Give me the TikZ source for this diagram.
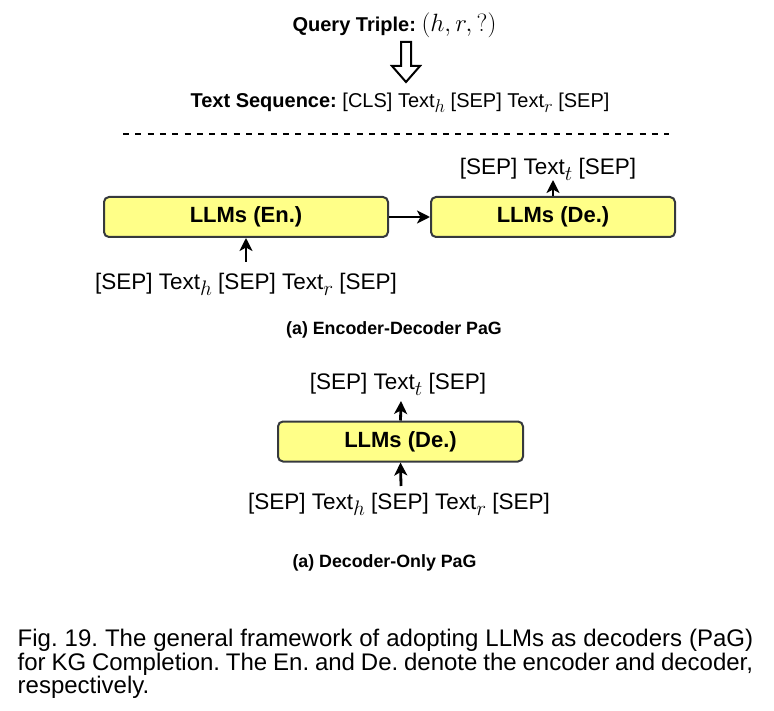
\RequirePackage{fix-cm}
\documentclass[tikz,border=0pt]{standalone}
\usepackage[no-math]{fontspec}
\setmainfont{Liberation Sans}
\usetikzlibrary{arrows.meta}
\definecolor{boxfill}{HTML}{FFFF88}
\definecolor{boxline}{HTML}{36393D}
\newcommand{\sbs}[1]{\raisebox{-6pt}{\fontsize{21}{21}\selectfont$#1$}}
\newcommand{\sbsm}[1]{\raisebox{-5pt}{\fontsize{18.5}{18.5}\selectfont$#1$}}
\begin{document}
\frenchspacing
\begin{tikzpicture}[x=1pt,y=-1pt,
  llm/.style={draw=boxline, fill=boxfill, line width=2pt, rounded corners=5pt,
    font=\fontsize{22}{26}\selectfont\bfseries, inner sep=0pt, minimum height=40pt},
  txt/.style={anchor=base, inner sep=0pt, font=\fontsize{22.5}{27}\selectfont},
  toptxt/.style={anchor=base, inner sep=0pt, font=\fontsize{20}{23}\selectfont},
  subcap/.style={anchor=base, inner sep=0pt, font=\fontsize{17.8}{20}\selectfont\bfseries},
  captxt/.style={anchor=base west, inner sep=0pt, font=\fontsize{24}{24}\selectfont},
  arr/.style={line width=2.8pt, -{Stealth[length=13pt,width=13pt,inset=3.5pt]}},
]
\useasboundingbox (0,0) rectangle (774,711);

% top part
\node[toptxt] (query) at (394.5,32) {\textbf{Query Triple:} {\fontsize{25}{25}\selectfont$(h, r, ?)$}};
\draw[line width=2pt, fill=white] (401,42) -- (411,42) -- (411,66) -- (420,66)
  -- (406,82) -- (392,66) -- (401,66) -- cycle;
\node[toptxt] (seq) at (400,108) {\textbf{Text Sequence:} [CLS] Text\sbsm{h} [SEP] Text\sbsm{r} [SEP]};
\draw[line width=2.5pt, dash pattern=on 6pt off 6.3pt] (123,134) -- (669,134);

% encoder-decoder
\node[llm, minimum width=284pt] (en) at (246,217) {LLMs (En.)};
\node[llm, minimum width=244pt] (de) at (553,217) {LLMs (De.)};
\draw[arr] (en.east) -- (de.west);
\node[txt] (outA) at (548,175) {[SEP] Text\sbs{t} [SEP]};
\coordinate (outAtip) at (553,180);
\draw[arr] (de.north) -- (outAtip);
\node[txt] (inA) at (246,290) {[SEP] Text\sbs{h} [SEP] Text\sbs{r} [SEP]};
\coordinate (inAbase) at (246,262);
\draw[arr] (inAbase) -- (en.south);
\node[subcap] (capA) at (394,335) {(a) Encoder-Decoder PaG};

% decoder only
\node[llm, minimum width=245pt] (de2) at (400.5,441.5) {LLMs (De.)};
\node[txt] (outB) at (398,389) {[SEP] Text\sbs{t} [SEP]};
\coordinate (outBtip) at (401,401);
\draw[arr] (de2.north) -- (outBtip);
\node[txt] (inB) at (399,509) {[SEP] Text\sbs{h} [SEP] Text\sbs{r} [SEP]};
\coordinate (inBbase) at (401,486);
\draw[arr] (inBbase) -- (de2.south);
\node[subcap] (capB) at (384.5,567) {(a) Decoder-Only PaG};

% caption
\node[captxt] (cap1) at (17.5,646) {\makebox[735.5pt][s]{Fig. 19. The general framework of adopting LLMs as decoders (PaG)}};
\node[captxt] (cap2) at (17.5,670) {\makebox[735.5pt][s]{for KG Completion. The En. and De. denote the encoder and decoder,}};
\node[captxt] (cap3) at (17.5,693.5) {respectively.};
\end{tikzpicture}
\end{document}
